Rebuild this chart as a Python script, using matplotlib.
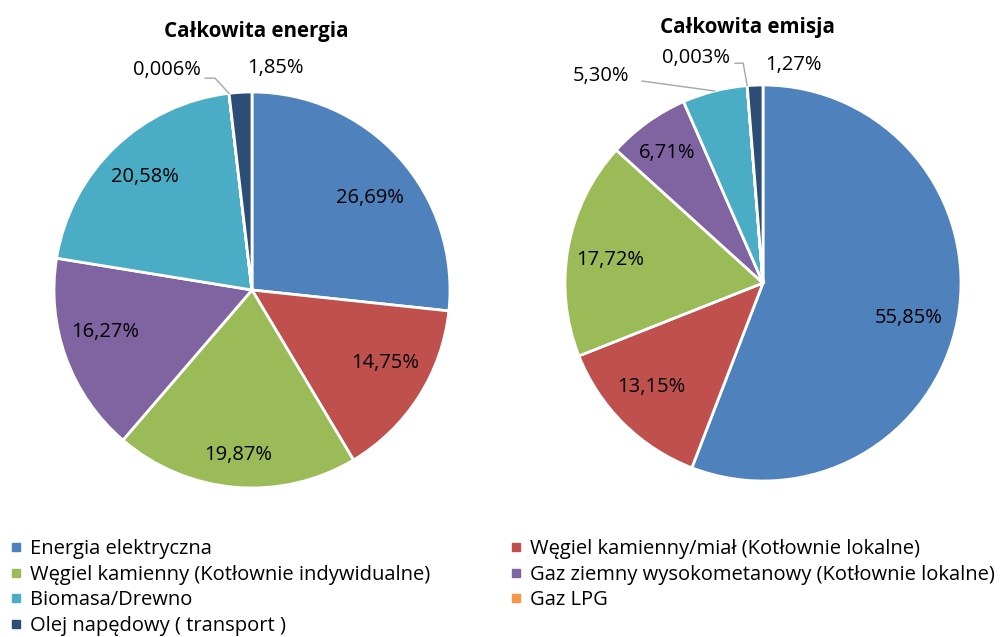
import matplotlib
matplotlib.use("Agg")
import matplotlib.pyplot as plt
from matplotlib.lines import Line2D
import numpy as np

plt.rcParams['font.family'] = ['Open Sans', 'DejaVu Sans']

categories = [
    "Energia elektryczna",
    "Węgiel kamienny/miał (Kotłownie lokalne)",
    "Węgiel kamienny (Kotłownie indywidualne)",
    "Gaz ziemny wysokometanowy (Kotłownie lokalne)",
    "Biomasa/Drewno",
    "Gaz LPG",
    "Olej napędowy ( transport )",
]
energia = [26.69, 14.75, 19.87, 16.27, 20.58, 0.006, 1.85]
energia_labels = ["26,69%", "14,75%", "19,87%", "16,27%", "20,58%", "0,006%", "1,85%"]
emisja = [55.85, 13.15, 17.72, 6.71, 5.30, 0.003, 1.27]
emisja_labels = ["55,85%", "13,15%", "17,72%", "6,71%", "5,30%", "0,003%", "1,27%"]
titles = ["Całkowita energia", "Całkowita emisja"]

colors = ["#4F81BD", "#C0504D", "#9BBB59", "#8064A2", "#4BACC6", "#F79646", "#2C4D75"]

fig = plt.figure(figsize=(10, 6.37), dpi=100)
W, H = 1000, 637
LBL = 14.5


def make_ax(cx, cy, r):
    ax = fig.add_axes([(cx - r) / W, (H - cy - r) / H, 2 * r / W, 2 * r / H])
    return ax


def fix_ax(ax):
    ax.set_xlim(-1, 1)
    ax.set_ylim(-1, 1)
    ax.set_aspect('equal')
    ax.axis('off')


def mid_angles(vals):
    tot = sum(vals)
    cum = np.cumsum([0] + list(vals))
    return [np.deg2rad(90 - (cum[i] + vals[i] / 2) / tot * 360) for i in range(len(vals))]


def draw_pie(ax, vals, labels, inside, outside, title, title_xy):
    ax.pie(vals, colors=colors, startangle=90, counterclock=False, radius=1,
           wedgeprops=dict(edgecolor='white', linewidth=2))
    fix_ax(ax)
    angs = mid_angles(vals)
    for i, lab in enumerate(labels):
        if i in inside:
            d, off = inside[i]
            a = angs[i] + np.deg2rad(off)
            ax.text(d * np.cos(a), d * np.sin(a), lab, ha='center', va='center',
                    fontsize=LBL, color='#000000')
        elif i in outside:
            tx, ty, leader = outside[i]
            ax.text(tx, ty, lab, ha='center', va='center', fontsize=LBL, color='#000000',
                    clip_on=False)
            if leader:
                ex, ey = 1.0 * np.cos(angs[i]), 1.0 * np.sin(angs[i])
                sx, sy, kx, ky = leader
                ax.plot([sx, kx, ex], [sy, ky, ey], color='#A6A6A6', lw=1, clip_on=False)
    ax.text(title_xy[0], title_xy[1], title, ha='center', va='center', fontsize=14.8,
            fontweight='bold', clip_on=False)


ax1 = make_ax(252, 290, 198)
draw_pie(ax1, energia, energia_labels,
         {0: (0.756, -4.1), 1: (0.766, 3.8), 2: (0.837, 0.0), 3: (0.772, -4.0),
          4: (0.786, -0.3)},
         {5: (-0.43, 1.11, (-0.237, 1.07, -0.187, 1.07)),
          6: (0.116, 1.12, None)},
         titles[0], (0.02, 1.305))

ax2 = make_ax(763, 283, 198)
draw_pie(ax2, emisja, emisja_labels,
         {0: (0.758, -3.0), 1: (0.772, -2.4), 2: (0.781, 1.8), 3: (0.816, 0.7)},
         {4: (-0.82, 1.045, (-0.611, 1.02, -0.611, 1.02)),
          5: (-0.338, 1.136, (-0.141, 1.11, -0.10, 1.11)),
          6: (0.152, 1.10, None)},
         titles[1], (-0.08, 1.29))


def handle(c):
    return Line2D([0], [0], marker='s', color='none', markerfacecolor=c,
                  markeredgecolor=c, markersize=6)


left_idx = [0, 2, 4, 6]
right_idx = [1, 3, 5]
leg_kw = dict(frameon=False, fontsize=14.5, handlelength=0.5, handletextpad=0.45,
              labelspacing=0.28, borderaxespad=0, borderpad=0)
leg1 = fig.legend([handle(colors[i]) for i in left_idx], [categories[i] for i in left_idx],
                  loc='upper left', bbox_to_anchor=(11 / W, 1 - 539 / H), **leg_kw)
leg2 = fig.legend([handle(colors[i]) for i in right_idx], [categories[i] for i in right_idx],
                  loc='upper left', bbox_to_anchor=(511 / W, 1 - 539 / H), **leg_kw)

fig.savefig("out.png", dpi=100, facecolor='white')
